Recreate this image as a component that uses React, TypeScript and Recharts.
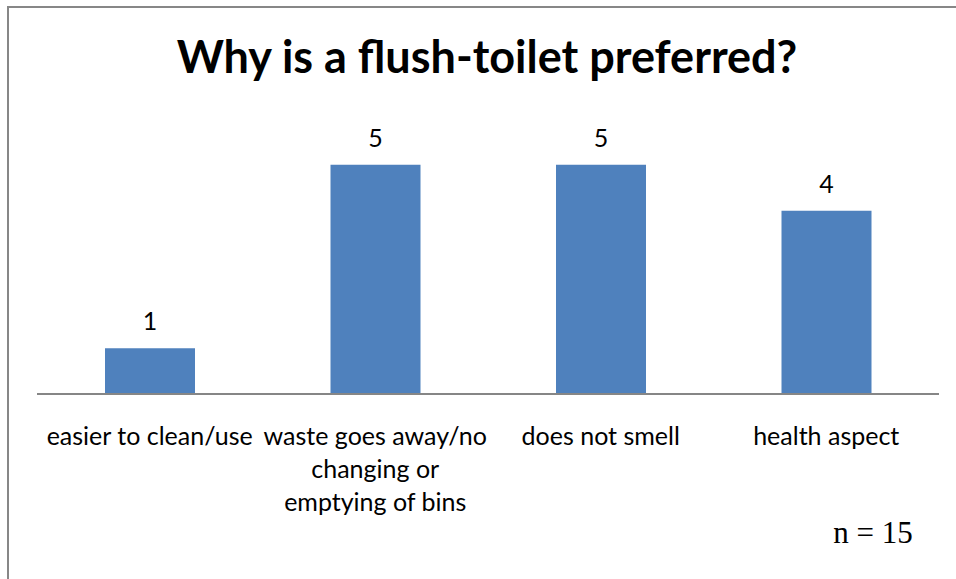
import { Bar, BarChart, LabelList, XAxis, YAxis } from "recharts";

const categories = [
  "easier to clean/use",
  "waste goes away/no changing or emptying of bins",
  "does not smell",
  "health aspect",
];
const tickLines: string[][] = [
  ["easier to clean/use"],
  ["waste goes away/no", "changing or", "emptying of bins"],
  ["does not smell"],
  ["health aspect"],
];
const counts = [1, 5, 5, 4];

const chartData = categories.map((name, i) => ({ name, count: counts[i] }));

const LABEL_FONT = "Lato, 'Open Sans', sans-serif";

function CategoryTick(props: any) {
  const { x, y, payload } = props;
  const lines = tickLines[payload.index] ?? [payload.value];
  return (
    <g>
      {lines.map((line, i) => (
        <text
          key={i}
          x={x}
          y={y + 43 + i * 33}
          textAnchor="middle"
          fontFamily={LABEL_FONT}
          fontSize={25}
          fill="#000"
        >
          {line}
        </text>
      ))}
    </g>
  );
}

function ValueLabel(props: any) {
  const { x, y, width, value } = props;
  return (
    <text
      x={x + width / 2}
      y={y - 18}
      textAnchor="middle"
      fontFamily={LABEL_FONT}
      fontSize={25}
      fill="#000"
    >
      {value}
    </text>
  );
}

export default function App() {
  return (
    <div
      style={{
        position: "absolute",
        left: 0,
        top: 0,
        width: 956,
        height: 579,
        background: "#fff",
        overflow: "hidden",
      }}
    >
      <div
        style={{
          position: "absolute",
          left: 7,
          top: 6,
          width: 960,
          height: 600,
          borderTop: "2px solid #878787",
          borderLeft: "2px solid #878787",
        }}
      />
      <BarChart
        width={956}
        height={579}
        data={chartData}
        margin={{ top: 119, right: 17, bottom: 75, left: 37 }}
        barCategoryGap="30%"
        style={{ position: "absolute", left: 0, top: 0 }}
      >
        <YAxis hide domain={[0, 6]} />
        <XAxis
          dataKey="name"
          height={110}
          interval={0}
          tickLine={false}
          axisLine={{ stroke: "#868686", strokeWidth: 2 }}
          tick={<CategoryTick />}
        />
        <Bar
          dataKey="count"
          fill="#4F81BD"
          barSize={90}
          isAnimationActive={false}
        >
          <LabelList dataKey="count" content={<ValueLabel />} />
        </Bar>
      </BarChart>
      <svg
        width={956}
        height={579}
        style={{ position: "absolute", left: 0, top: 0, pointerEvents: "none" }}
      >
        <text
          x={487}
          y={73}
          textAnchor="middle"
          fontFamily={LABEL_FONT}
          fontWeight="bold"
          fontSize={45}
          fill="#000"
        >
          Why is a flush-toilet preferred?
        </text>
        <text
          x={873}
          y={543}
          textAnchor="middle"
          fontFamily="'Liberation Serif', 'Times New Roman', serif"
          fontSize={31}
          fill="#000"
        >
          n = 15
        </text>
      </svg>
    </div>
  );
}
